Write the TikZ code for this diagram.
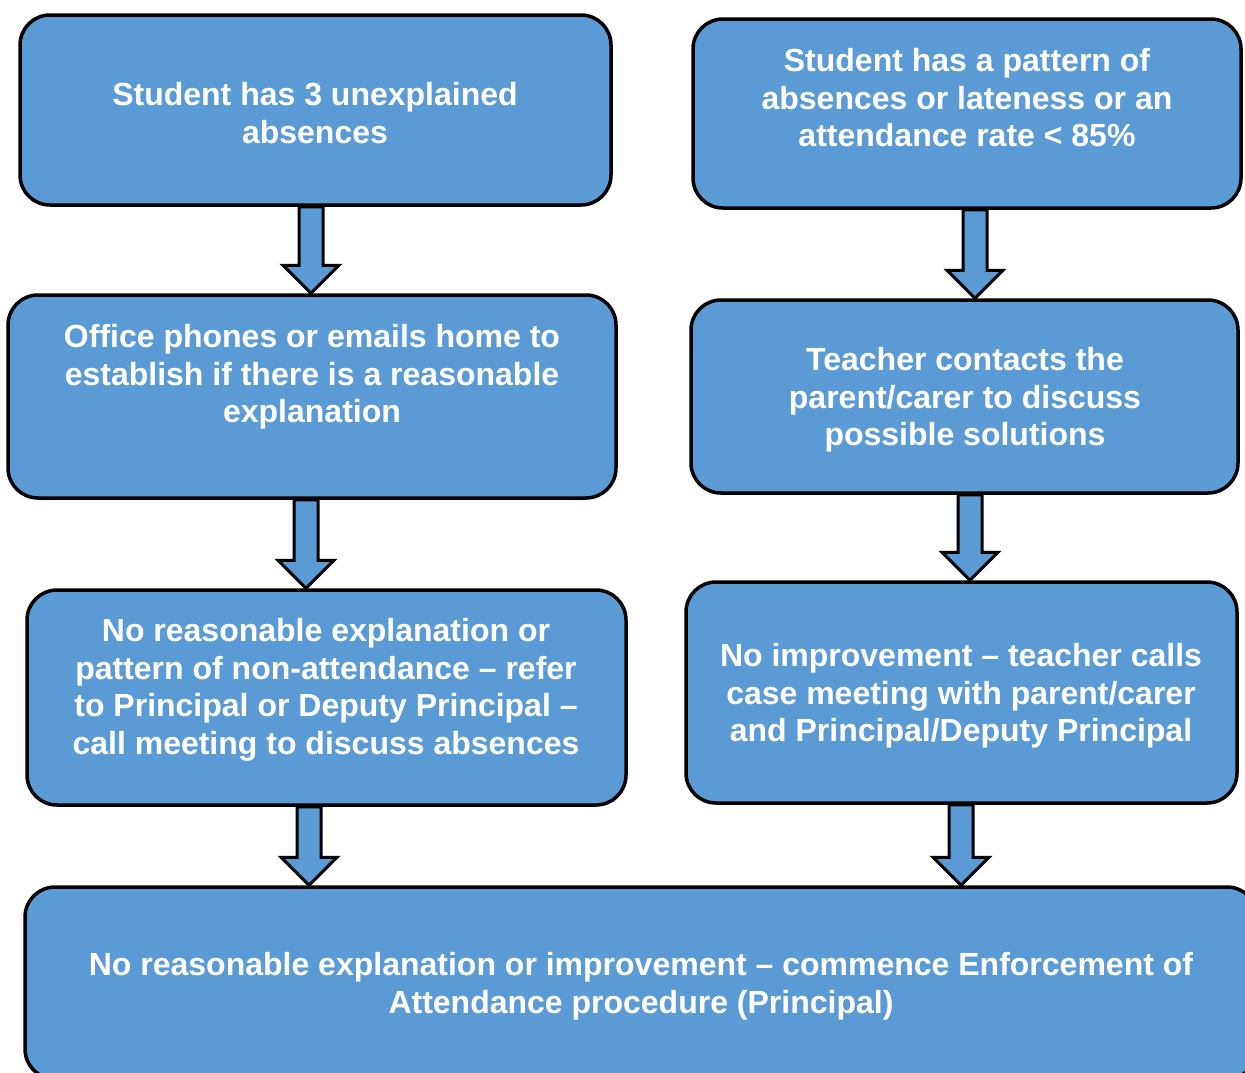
\documentclass[tikz,border=0pt]{standalone}
\usepackage{fontspec}
\setmainfont{Liberation Sans}
\usetikzlibrary{calc}
\definecolor{boxblue}{HTML}{5B9BD5}
\tikzstyle{block} = [rectangle, draw, line width=3.5pt, fill=boxblue, rounded corners=30pt, inner sep=0]
\tikzstyle{boxtext} = [align=center, text=white, inner sep=0, font=\fontsize{32}{37.5}\selectfont\bfseries]
\tikzstyle{barrow} = [draw, line width=3pt, fill=boxblue, line join=miter]
% block arrow at x=#1 from node #2 down to node #3
\newcommand{\flowarrow}[3]{%
  \draw[barrow] let \p1=(#2.south), \p2=(#3.north) in
    (#1pt-12pt,\y1) -- (#1pt+12pt,\y1) -- (#1pt+12pt,\y2+28pt) -- (#1pt+28pt,\y2+28pt)
    -- (#1pt,\y2) -- (#1pt-28pt,\y2+28pt) -- (#1pt-12pt,\y2+28pt) -- cycle;}

\begin{document}
\begin{tikzpicture}[x=1pt, y=-1pt]
\useasboundingbox (0,0) rectangle (1245,1072);
\clip (0,0) rectangle (1245,1072);

\node [block, minimum width=591pt, minimum height=190pt] (boxA) at (315.5,110) {};
\node [block, minimum width=548pt, minimum height=189pt] (boxB) at (967,113.5) {};
\node [block, minimum width=608pt, minimum height=203pt] (boxC) at (312,396.5) {};
\node [block, minimum width=547pt, minimum height=193pt] (boxD) at (964.5,396.5) {};
\node [block, minimum width=599pt, minimum height=215pt] (boxE) at (326.5,697.5) {};
\node [block, minimum width=551pt, minimum height=221pt] (boxF) at (961.5,692.5) {};
\node [block, minimum width=1232pt, minimum height=192pt] (boxG) at (641,983) {};

\node [boxtext] (txtA) at (315,113) {Student has 3 unexplained\\absences};
\node [boxtext] (txtB) at (967,98) {Student has a pattern of\\absences or lateness or an\\attendance rate < 85\%};
\node [boxtext] (txtC) at (312,377) {Office phones or emails home to\\establish if there is a reasonable\\explanation};
\node [boxtext] (txtD) at (965,400) {Teacher contacts the\\parent/carer to discuss\\possible solutions};
\node [boxtext] (txtE) at (326,690) {No reasonable explanation or\\pattern of non-attendance – refer\\to Principal or Deputy Principal –\\call meeting to discuss absences};
\node [boxtext] (txtF) at (961,696) {No improvement – teacher calls\\case meeting with parent/carer\\and Principal/Deputy Principal};
\node [boxtext] (txtG) at (641,986) {No reasonable explanation or improvement – commence Enforcement of\\Attendance procedure (Principal)};

\flowarrow{311}{boxA}{boxC}
\flowarrow{975}{boxB}{boxD}
\flowarrow{306}{boxC}{boxE}
\flowarrow{970}{boxD}{boxF}
\flowarrow{309}{boxE}{boxG}
\flowarrow{961}{boxF}{boxG}

\end{tikzpicture}
\end{document}
